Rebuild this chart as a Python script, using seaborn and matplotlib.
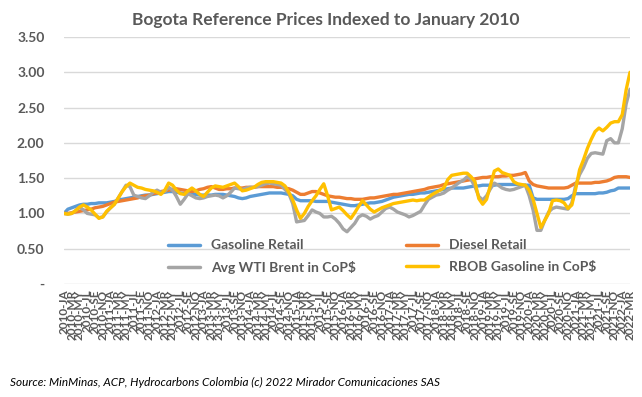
"""
Bogota Reference Prices Indexed to January 2010.
Índices mensuales (ene-2010 = 1.00) de precios de referencia en Bogotá.
"""

import numpy as np
import pandas as pd
import matplotlib
matplotlib.use("Agg")
import matplotlib.pyplot as plt
from matplotlib.lines import Line2D
import seaborn as sns

# Datos, mensual 2010-JA .. 2022-MR
YEARS = list(range(2010, 2023))
MONTH_CODES = ['JA', 'FE', 'MR', 'AB', 'MY', 'JN', 'JL', 'AG', 'SE', 'OC', 'NO', 'DI']
N_MONTHS = 147

gasoline_retail = [
    1.00, 1.06, 1.08, 1.10, 1.12, 1.13, 1.13, 1.14, 1.14, 1.15, 1.15, 1.15,  # 2010
    1.16, 1.17, 1.19, 1.20, 1.21, 1.22, 1.23, 1.24, 1.25, 1.26, 1.26, 1.27,  # 2011
    1.28, 1.29, 1.30, 1.31, 1.31, 1.30, 1.29, 1.28, 1.28, 1.27, 1.27, 1.26,  # 2012
    1.26, 1.26, 1.26, 1.27, 1.27, 1.27, 1.26, 1.25, 1.24, 1.22, 1.21, 1.22,  # 2013
    1.24, 1.25, 1.26, 1.27, 1.28, 1.29, 1.29, 1.29, 1.29, 1.28, 1.27, 1.25,  # 2014
    1.20, 1.18, 1.18, 1.18, 1.18, 1.17, 1.17, 1.17, 1.17, 1.16, 1.15, 1.14,  # 2015
    1.13, 1.12, 1.11, 1.11, 1.12, 1.13, 1.14, 1.15, 1.15, 1.16, 1.17, 1.19,  # 2016
    1.21, 1.23, 1.24, 1.25, 1.26, 1.27, 1.27, 1.28, 1.29, 1.29, 1.30, 1.31,  # 2017
    1.32, 1.33, 1.34, 1.35, 1.36, 1.36, 1.36, 1.36, 1.37, 1.38, 1.39, 1.39,  # 2018
    1.40, 1.40, 1.40, 1.40, 1.41, 1.41, 1.41, 1.41, 1.41, 1.41, 1.40, 1.40,  # 2019
    1.40, 1.22, 1.20, 1.20, 1.20, 1.20, 1.20, 1.20, 1.20, 1.20, 1.21, 1.25,  # 2020
    1.28, 1.28, 1.28, 1.28, 1.28, 1.28, 1.29, 1.29, 1.30, 1.32, 1.33, 1.36,  # 2021
    1.36, 1.36, 1.36,                                                        # 2022
]

diesel_retail = [
    1.00, 1.00, 1.01, 1.02, 1.03, 1.04, 1.05, 1.06, 1.08, 1.09, 1.10, 1.12,
    1.14, 1.16, 1.17, 1.18, 1.19, 1.20, 1.21, 1.22, 1.24, 1.25, 1.26, 1.28,
    1.29, 1.31, 1.32, 1.33, 1.34, 1.35, 1.34, 1.33, 1.32, 1.31, 1.32, 1.34,
    1.35, 1.37, 1.38, 1.36, 1.34, 1.34, 1.35, 1.35, 1.36, 1.36, 1.36, 1.37,
    1.37, 1.37, 1.38, 1.38, 1.38, 1.38, 1.38, 1.37, 1.37, 1.36, 1.35, 1.33,
    1.30, 1.27, 1.27, 1.29, 1.31, 1.31, 1.29, 1.27, 1.25, 1.24, 1.23, 1.23,
    1.22, 1.21, 1.21, 1.20, 1.20, 1.20, 1.21, 1.22, 1.22, 1.23, 1.24, 1.25,
    1.26, 1.27, 1.27, 1.28, 1.29, 1.30, 1.31, 1.32, 1.33, 1.34, 1.36, 1.37,
    1.38, 1.39, 1.41, 1.42, 1.43, 1.44, 1.45, 1.46, 1.47, 1.48, 1.49, 1.50,
    1.51, 1.51, 1.52, 1.52, 1.52, 1.53, 1.53, 1.54, 1.54, 1.55, 1.56, 1.58,
    1.46, 1.41, 1.39, 1.38, 1.37, 1.36, 1.36, 1.36, 1.36, 1.36, 1.37, 1.40,
    1.43, 1.43, 1.43, 1.43, 1.43, 1.44, 1.44, 1.45, 1.46, 1.48, 1.51, 1.52,
    1.52, 1.52, 1.51,
]

wti_brent_cop = [
    1.00, 0.99, 1.00, 1.04, 1.09, 1.05, 1.00, 0.99, 0.98, 0.94, 0.95, 1.02,
    1.08, 1.13, 1.22, 1.31, 1.40, 1.38, 1.26, 1.24, 1.22, 1.21, 1.25, 1.30,
    1.33, 1.30, 1.31, 1.37, 1.33, 1.24, 1.13, 1.20, 1.28, 1.25, 1.22, 1.21,
    1.22, 1.24, 1.25, 1.26, 1.25, 1.22, 1.25, 1.30, 1.36, 1.35, 1.34, 1.36,
    1.37, 1.37, 1.38, 1.40, 1.42, 1.43, 1.42, 1.41, 1.40, 1.34, 1.28, 1.14,
    0.88, 0.89, 0.90, 0.97, 1.05, 1.02, 1.00, 0.95, 0.95, 0.96, 0.92, 0.86,
    0.78, 0.74, 0.80, 0.86, 0.95, 0.98, 0.96, 0.92, 0.95, 0.97, 1.02, 1.07,
    1.09, 1.06, 1.02, 1.00, 0.98, 0.95, 0.97, 1.00, 1.03, 1.12, 1.20, 1.23,
    1.26, 1.27, 1.29, 1.33, 1.36, 1.40, 1.44, 1.47, 1.52, 1.48, 1.38, 1.24,
    1.19, 1.25, 1.35, 1.43, 1.40, 1.36, 1.34, 1.33, 1.34, 1.36, 1.38, 1.40,
    1.25, 1.05, 0.76, 0.76, 0.90, 1.02, 1.07, 1.09, 1.08, 1.07, 1.06, 1.15,
    1.40, 1.55, 1.65, 1.78, 1.85, 1.86, 1.85, 1.84, 2.03, 2.06, 2.00, 2.00,
    2.20, 2.55, 2.76,
]

rbob_gasoline_cop = [
    1.00, 0.99, 1.00, 1.04, 1.09, 1.12, 1.09, 1.05, 0.99, 0.93, 0.95, 1.03,
    1.08, 1.13, 1.22, 1.31, 1.38, 1.43, 1.40, 1.37, 1.36, 1.34, 1.33, 1.32,
    1.30, 1.27, 1.33, 1.43, 1.40, 1.33, 1.28, 1.27, 1.32, 1.36, 1.32, 1.27,
    1.24, 1.30, 1.36, 1.39, 1.38, 1.37, 1.39, 1.41, 1.43, 1.38, 1.32, 1.33,
    1.35, 1.37, 1.41, 1.44, 1.45, 1.45, 1.45, 1.44, 1.43, 1.39, 1.30, 1.19,
    1.05, 0.93, 1.00, 1.10, 1.18, 1.25, 1.34, 1.42, 1.25, 1.05, 1.07, 1.09,
    1.04, 0.98, 0.93, 1.01, 1.10, 1.18, 1.12, 1.06, 1.02, 1.05, 1.08, 1.10,
    1.12, 1.14, 1.15, 1.16, 1.17, 1.18, 1.19, 1.18, 1.19, 1.19, 1.23, 1.27,
    1.30, 1.33, 1.36, 1.48, 1.54, 1.55, 1.56, 1.57, 1.57, 1.52, 1.45, 1.21,
    1.13, 1.20, 1.40, 1.60, 1.63, 1.58, 1.56, 1.54, 1.45, 1.42, 1.41, 1.40,
    1.33, 1.20, 1.00, 0.80, 0.90, 1.00, 1.18, 1.19, 1.18, 1.15, 1.07, 1.12,
    1.35, 1.62, 1.76, 1.92, 2.05, 2.16, 2.21, 2.17, 2.22, 2.28, 2.30, 2.30,
    2.40, 2.75, 3.00,
]

SERIES_NAMES = ['Gasoline Retail', 'Diesel Retail',
                'Avg WTI Brent in CoP$', 'RBOB Gasoline in CoP$']
COLORS = ['#5B9BD5', '#ED7D31', '#A5A5A5', '#FFC000']

TITLE = 'Bogota Reference Prices Indexed to January 2010'
SOURCE = 'Source: MinMinas, ACP, Hydrocarbons Colombia (c) 2022 Mirador Comunicaciones SAS'

TEXT_COLOR = '#595959'
GRID_COLOR = '#D9D9D9'


def build_frame():
    """Arma el DataFrame largo para seaborn."""
    month_labels = [f"{y}-{m}" for y in YEARS for m in MONTH_CODES][:N_MONTHS]
    frames = []
    for name, values in zip(SERIES_NAMES, [gasoline_retail, diesel_retail,
                                           wti_brent_cop, rbob_gasoline_cop]):
        frames.append(pd.DataFrame({'mes': np.arange(len(values)),
                                    'indice': values,
                                    'serie': name}))
    return pd.concat(frames, ignore_index=True), month_labels


def main():
    df, month_labels = build_frame()

    sns.set_style("white")
    plt.rcParams['font.family'] = ['Lato', 'DejaVu Sans']

    fig = plt.figure(figsize=(6.42, 3.97), dpi=100)
    ax = fig.add_axes([64 / 642, 1 - 284 / 397, 566 / 642, 247 / 397])

    sns.lineplot(data=df, x='mes', y='indice', hue='serie',
                 hue_order=SERIES_NAMES, palette=COLORS,
                 linewidth=2.4, legend=False, ax=ax)

    # Ejes
    ax.set_xlim(0, N_MONTHS - 1)
    ax.set_ylim(0, 3.5)
    yticks = np.arange(0, 3.51, 0.5)
    ax.set_yticks(yticks)
    ax.set_yticklabels(['-' if v == 0 else f'{v:.2f}' for v in yticks],
                       fontsize=10, fontweight='bold', color=TEXT_COLOR)
    ax.set_xticks(np.arange(0, N_MONTHS, 2))
    ax.set_xticklabels(month_labels[::2], rotation=90, fontsize=8.5,
                       fontweight='bold', color=TEXT_COLOR, va='top', ha='center')
    ax.tick_params(axis='both', length=0)
    ax.tick_params(axis='y', pad=14)
    ax.tick_params(axis='x', pad=4)
    ax.set_xlabel('')
    ax.set_ylabel('')

    ax.yaxis.grid(True, color=GRID_COLOR, linewidth=1)
    ax.xaxis.grid(False)
    ax.set_axisbelow(True)
    for side in ax.spines.values():
        side.set_visible(False)

    # Leyenda: 2 columnas, filas (Gasoline, Diesel) y (WTI, RBOB)
    order = [0, 2, 1, 3]
    handles = [Line2D([0], [0], color=COLORS[i], lw=2.5) for i in order]
    labels = [SERIES_NAMES[i] for i in order]
    leg = ax.legend(handles, labels, loc='center',
                    bbox_to_anchor=(0.562, 0.11), ncol=2, frameon=False,
                    handlelength=2.3, columnspacing=3.6, labelspacing=0.7,
                    prop={'size': 10, 'weight': 'bold'})
    for text in leg.get_texts():
        text.set_color(TEXT_COLOR)

    # Título y fuente
    fig.text(0.508, 1 - 20 / 397, TITLE, ha='center', va='center',
             fontsize=12.5, fontweight='bold', color=TEXT_COLOR)
    fig.text(10 / 642, 1 - 382 / 397, SOURCE, ha='left', va='center',
             fontsize=8.5, style='italic', color='#000000')

    fig.savefig('out.png', dpi=100)
    plt.close(fig)


if __name__ == '__main__':
    main()
